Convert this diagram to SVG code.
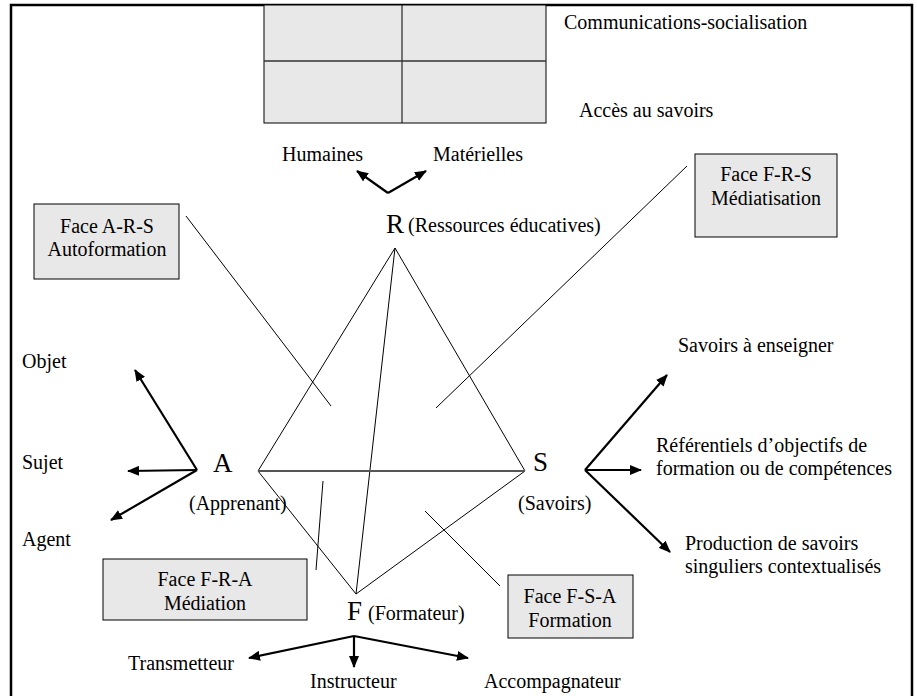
<svg xmlns="http://www.w3.org/2000/svg" width="917" height="696" viewBox="0 0 917 696">
<defs>
<marker id="ah" markerUnits="userSpaceOnUse" markerWidth="12" markerHeight="10" refX="11" refY="5" orient="auto"><path d="M0,0 L12,5 L0,10 z" fill="#000"/></marker>
</defs>
<style>
text{font-family:"Liberation Serif","Times New Roman",serif;font-size:20px;fill:#000}
.big{font-size:27px}
.mid{text-anchor:middle}
.box{fill:#e8e8e8;stroke:#000;stroke-width:1}
.thin{stroke:#000;stroke-width:1;fill:none}
.arrow{stroke:#000;stroke-width:2.2;fill:none;marker-end:url(#ah)}
</style>
<rect width="917" height="696" fill="#fff"/>
<path d="M11,696 V5 H912 V696" fill="none" stroke="#000" stroke-width="2.5"/>

<g id="grid">
<rect x="264" y="5" width="282" height="118" class="box"/>
<line x1="402" y1="5" x2="402" y2="123" class="thin"/>
<line x1="264" y1="61" x2="546" y2="61" stroke="#333" stroke-width="1.5"/>
<text x="564" y="29">Communications-socialisation</text>
<text x="579" y="117">Accès au savoirs</text>
</g>

<g id="connectors">
<line x1="395" y1="248" x2="258" y2="471" class="thin"/>
<line x1="395" y1="248" x2="525" y2="471" class="thin"/>
<line x1="395" y1="248" x2="356" y2="594" class="thin"/>
<line x1="258" y1="471" x2="356" y2="594" class="thin"/>
<line x1="525" y1="471" x2="356" y2="594" class="thin"/>
<line x1="258" y1="471" x2="525" y2="471" stroke="#555" stroke-width="2"/>
<line x1="186" y1="216" x2="331" y2="406" class="thin"/>
<line x1="687" y1="166" x2="436" y2="408" class="thin"/>
<line x1="323" y1="481" x2="316" y2="570" class="thin"/>
<line x1="425" y1="511" x2="500" y2="586" class="thin"/>
<path d="M388,193 L357,171" class="arrow"/>
<path d="M388,193 L426,171" class="arrow"/>
<path d="M197,470 L135,370" class="arrow"/>
<path d="M197,470 L128,471" class="arrow"/>
<path d="M197,470 L111,520" class="arrow"/>
<path d="M585,470 L667,375" class="arrow"/>
<path d="M585,470 L641,470" class="arrow"/>
<path d="M585,470 L670,552" class="arrow"/>
<path d="M354,636 L249,658" class="arrow"/>
<path d="M354,636 L354,667" class="arrow"/>
<path d="M354,636 L468,658" class="arrow"/>
</g>

<g id="node-R">
<text x="386" y="233" class="big">R</text>
<text x="408" y="232">(Ressources éducatives)</text>
<text x="282" y="161">Humaines</text>
<text x="433" y="161">Matérielles</text>
</g>

<g id="node-A">
<text x="213" y="472" class="big">A</text>
<text x="189" y="510">(Apprenant)</text>
<text x="22" y="368">Objet</text>
<text x="22" y="469">Sujet</text>
<text x="22" y="546">Agent</text>
</g>

<g id="node-S">
<text x="533" y="471" class="big">S</text>
<text x="518" y="510">(Savoirs)</text>
<text x="678" y="352">Savoirs à enseigner</text>
<text x="656" y="452">Référentiels d’objectifs de</text>
<text x="656" y="475">formation ou de compétences</text>
<text x="685" y="550">Production de savoirs</text>
<text x="685" y="573">singuliers contextualisés</text>
</g>

<g id="node-F">
<text x="347" y="620" class="big">F</text>
<text x="368" y="620">(Formateur)</text>
<text x="128" y="670">Transmetteur</text>
<text x="310" y="688">Instructeur</text>
<text x="484" y="688">Accompagnateur</text>
</g>

<g id="face-ARS">
<rect x="34" y="204" width="145" height="75" class="box"/>
<text x="107" y="233" class="mid">Face A-R-S</text>
<text x="107" y="256" class="mid">Autoformation</text>
</g>
<g id="face-FRS">
<rect x="695" y="154" width="142" height="83" class="box"/>
<text x="766" y="181" class="mid">Face F-R-S</text>
<text x="766" y="205" class="mid">Médiatisation</text>
</g>
<g id="face-FRA">
<rect x="103" y="559" width="204" height="61" class="box"/>
<text x="205" y="586" class="mid">Face F-R-A</text>
<text x="205" y="610" class="mid">Médiation</text>
</g>
<g id="face-FSA">
<rect x="508" y="575" width="125" height="63" class="box"/>
<text x="570" y="603" class="mid">Face F-S-A</text>
<text x="570" y="627" class="mid">Formation</text>
</g>
</svg>
